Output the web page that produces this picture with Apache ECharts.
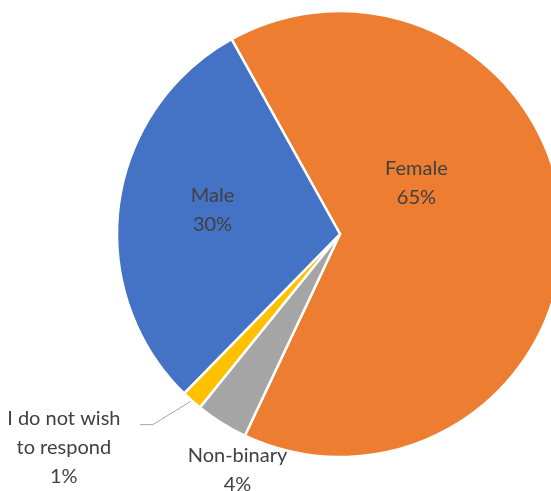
<!DOCTYPE html>
<html>
<head>
<meta charset="utf-8">
<script src="https://cdn.jsdelivr.net/npm/echarts@6/dist/echarts.min.js"></script>
<style>
html,body{margin:0;padding:0;background:#fff;}
#c{width:551px;height:491px;}
</style>
</head>
<body>
<div id="c"></div>
<script>
const categories = ['Female', 'Non-binary', 'I do not wish to respond', 'Male'];
const labelTexts = ['Female', 'Non-binary', 'I do not wish\nto respond', 'Male'];
const values = [65.1, 3.8, 1.5, 29.6];
const colors = ['#ED7D31', '#A5A5A5', '#FFC000', '#4472C4'];

const insideShift = [[-38, -47], null, null, [-14, -9]];
const outsideShift = [null, [16, 47], [-128, 47], null];
const leaderBend = [null, null, [[-39, 24], [-52, 24]], null];

const chart = echarts.init(document.getElementById('c'), null, {renderer: 'canvas'});

const data = categories.map(function (name, i) {
  const outside = outsideShift[i] !== null;
  return {
    name: name,
    value: values[i],
    itemStyle: {color: colors[i]},
    label: {position: outside ? 'outside' : 'inside'},
    labelLine: {
      show: outside,
      lineStyle: {color: '#A6A6A6', width: 1, opacity: leaderBend[i] ? 1 : 0}
    }
  };
});

chart.setOption({
  animation: false,
  series: [{
    type: 'pie',
    center: [340, 234],
    radius: 223,
    startAngle: 119.1,
    clockwise: true,
    avoidLabelOverlap: false,
    percentPrecision: 0,
    itemStyle: {borderColor: '#ffffff', borderWidth: 2.5},
    label: {
      formatter: function (p) {
        const lines = (labelTexts[p.dataIndex] + '\n' + p.percent + '%').split('\n');
        return lines.map(function (l) { return '{c|' + l + '}'; }).join('\n');
      },
      color: '#404040',
      fontFamily: 'Lato',
      fontSize: 20,
      lineHeight: 29,
      rich: {
        c: {align: 'center', color: '#404040', fontFamily: 'Lato', fontSize: 20, lineHeight: 29}
      }
    },
    labelLine: {length: 20, length2: 10, smooth: false},
    labelLayout: function (p) {
      const i = p.dataIndex;
      if (insideShift[i]) {
        const s = insideShift[i];
        return {
          x: p.labelRect.x + p.labelRect.width / 2 + s[0],
          y: p.labelRect.y + p.labelRect.height / 2 + s[1],
          align: 'center', verticalAlign: 'middle'
        };
      }
      const p0 = p.labelLinePoints ? p.labelLinePoints[0] : [p.labelRect.x, p.labelRect.y];
      const s = outsideShift[i];
      const res = {x: p0[0] + s[0], y: p0[1] + s[1], align: 'center', verticalAlign: 'middle'};
      if (leaderBend[i]) {
        const b = leaderBend[i];
        res.labelLinePoints = [p0, [p0[0] + b[0][0], p0[1] + b[0][1]], [p0[0] + b[1][0], p0[1] + b[1][1]]];
      } else {
        res.labelLinePoints = [p0, p0, p0];
      }
      return res;
    },
    data: data
  }]
});
</script>
</body>
</html>
